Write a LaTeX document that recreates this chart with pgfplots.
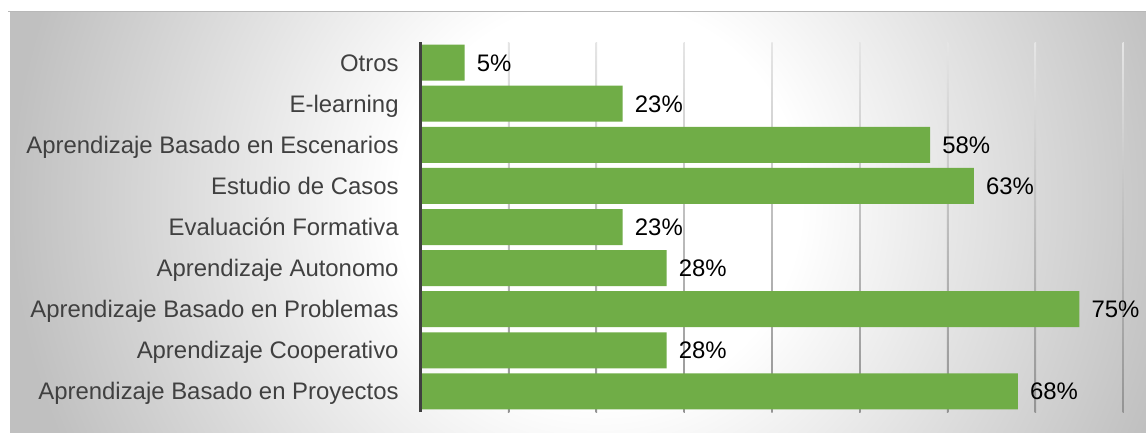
\documentclass[border=0pt]{standalone}
\usepackage{fontspec}
\setmainfont{Liberation Sans}
\usepackage{pgfplots}
\pgfplotsset{compat=1.18}

\definecolor{bargreen}{HTML}{70AD47}
\definecolor{labelgray}{HTML}{404040}
\definecolor{axisgray}{HTML}{404040}
\definecolor{panelgray}{HTML}{C0C0C0}

% soft radial glow for the chart panel
\pgfdeclareradialshading{panelglow}{\pgfpoint{0bp}{0bp}}{%
  color(0bp)=(white); color(8.5bp)=(white);
  color(25bp)=(panelgray); color(50bp)=(panelgray)}

\newcommand{\labelfont}{\fontsize{24}{28}\selectfont}

\begin{document}
\begin{tikzpicture}[x=1bp,y=1bp]
\useasboundingbox (0,0) rectangle (1146,432);
\fill[white] (0,0) rectangle (1146,432);
\begin{scope}
  \clip (8,0) rectangle (1146,420);
  \shade[shading=panelglow] (10,-360) rectangle (1190,820);
\end{scope}
\draw[black!28, line width=1bp] (8,420) -- (1146,420);

\begin{axis}[
  at={(420.8bp,20bp)}, anchor=south west,
  scale only axis, width=702.4bp, height=370bp,
  xbar, bar width=36bp,
  xmin=0, xmax=80, ymin=-0.5, ymax=8.5,
  axis x line=none, axis y line*=left,
  y axis line style={draw=axisgray, line width=3bp},
  ytick={0,1,2,3,4,5,6,7,8},
  yticklabels={Aprendizaje Basado en Proyectos, Aprendizaje Cooperativo,
    Aprendizaje Basado en Problemas, Aprendizaje Autonomo,
    Evaluación Formativa, Estudio de Casos,
    Aprendizaje Basado en Escenarios, E-learning, Otros},
  major tick length=0pt,
  yticklabel style={anchor=east, inner sep=0pt, xshift=-22bp,
    text=labelgray, font=\labelfont, text height=17bp, text depth=0pt},
  /pgf/number format/assume math mode=true,
  point meta=x,
  nodes near coords={\pgfmathprintnumber{\pgfplotspointmeta}\%},
  nodes near coords style={anchor=west, inner sep=0pt, xshift=12bp,
    text=black, font=\labelfont, text height=17bp, text depth=0pt},
  axis on top,
  clip=false,
]
% vertical guide lines, fading towards the top
\pgfplotsinvokeforeach{10,20,30,40,50,60,70,80}{
  \shade[top color=black!10, bottom color=black!42]
    ([xshift=-0.7bp]axis cs:#1,8.5) rectangle ([xshift=0.7bp]axis cs:#1,-0.5);
}
\addplot[fill=bargreen, draw=none] coordinates {
  (68,0) (28,1) (75,2) (28,3) (23,4) (63,5) (58,6) (23,7) (5,8)};
\end{axis}
\end{tikzpicture}
\end{document}
